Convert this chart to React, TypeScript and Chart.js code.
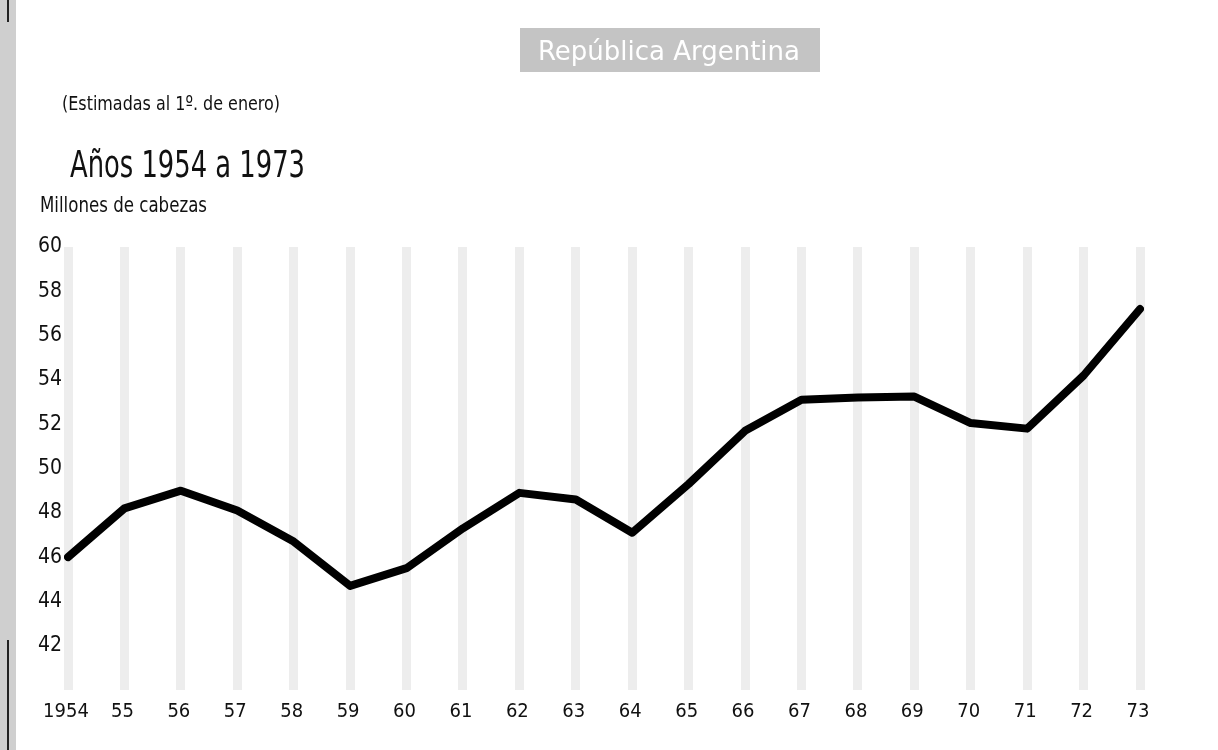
import React, { useEffect, useRef } from "react";
import { Chart, registerables } from "chart.js";

Chart.register(...registerables);

const years = ["1954", "55", "56", "57", "58", "59", "60", "61", "62", "63", "64", "65", "66", "67", "68", "69", "70", "71", "72", "73"];
const cattle = [46.0, 48.2, 49.0, 48.1, 46.7, 44.7, 45.5, 47.3, 48.9, 48.6, 47.1, 49.3, 51.7, 53.1, 53.2, 53.25, 52.05, 51.8, 54.2, 57.2];
const yTickValues = [42, 44, 46, 48, 50, 52, 54, 56, 58, 60];

const topTitle = "República Argentina";
const subTitle = "(Estimadas al 1º. de enero)";
const mainTitle = "Años 1954 a 1973";
const unitLabel = "Millones de cabezas";

const FONT = "'Liberation Sans Narrow', 'DejaVu Sans Condensed', 'Roboto Condensed', 'Liberation Sans', sans-serif";

function fitText(ctx: CanvasRenderingContext2D, text: string, x: number, baseline: number, size: number, width: number) {
  ctx.save();
  ctx.font = `${size}px ${FONT}`;
  ctx.textAlign = "left";
  ctx.textBaseline = "alphabetic";
  const w = ctx.measureText(text).width;
  const sx = w > 0 ? width / w : 1;
  ctx.translate(x, baseline);
  ctx.scale(sx, 1);
  ctx.fillText(text, 0, 0);
  ctx.restore();
}

const decorPlugin = {
  id: "decor",
  beforeDraw(chart: any) {
    const ctx = chart.ctx;
    ctx.save();
    ctx.fillStyle = "#ffffff";
    ctx.fillRect(0, 0, chart.width, chart.height);
    // scanned left edge strip
    ctx.fillStyle = "#cfcfcf";
    ctx.fillRect(0, 0, 16, chart.height);
    ctx.fillStyle = "#222";
    ctx.fillRect(7, 0, 2, 22);
    ctx.fillRect(7, 640, 2, 110);
    // gray patch behind top title
    ctx.fillStyle = "#c4c4c4";
    ctx.fillRect(520, 28, 300, 44);
    ctx.restore();
  },
  afterDraw(chart: any) {
    const ctx = chart.ctx;
    ctx.save();
    ctx.fillStyle = "#ffffff";
    fitText(ctx, topTitle, 538, 60, 27, 262);
    ctx.fillStyle = "#111";
    fitText(ctx, subTitle, 62, 110, 20, 218);
    fitText(ctx, mainTitle, 70, 177, 37, 235);
    fitText(ctx, unitLabel, 40, 212, 22, 167);
    ctx.restore();
  },
};

export default function App() {
  const ref = useRef<HTMLCanvasElement | null>(null);

  useEffect(() => {
    if (!ref.current) return;
    const chart = new Chart(ref.current, {
      type: "line",
      data: {
        labels: years,
        datasets: [
          {
            data: cattle,
            borderColor: "#000000",
            borderWidth: 8,
            pointRadius: 0,
            tension: 0,
            borderJoinStyle: "round",
            borderCapStyle: "round",
            fill: false,
          },
        ],
      },
      plugins: [decorPlugin],
      options: {
        responsive: false,
        animation: false,
        layout: { padding: { top: 247, right: 78, bottom: 0, left: 0 } },
        plugins: {
          legend: { display: false },
          tooltip: { enabled: false },
        },
        scales: {
          x: {
            offset: false,
            border: { display: false },
            grid: { display: true, color: "rgba(0,0,0,0.07)", lineWidth: 9, drawTicks: false },
            ticks: {
              color: "#111",
              padding: 10,
              labelOffset: -2,
              maxRotation: 0,
              autoSkip: false,
              font: { family: FONT, size: 20 },
            },
            afterFit(scale: any) {
              scale.height = 60;
            },
          },
          y: {
            min: 40,
            max: 60,
            border: { display: false },
            grid: { display: false, drawTicks: false },
            afterBuildTicks(scale: any) {
              scale.ticks = yTickValues.map((v) => ({ value: v }));
            },
            ticks: {
              color: "#111",
              padding: 6,
              font: { family: FONT, size: 21 },
            },
            afterFit(scale: any) {
              scale.width = 68;
            },
          },
        },
      },
    });
    return () => chart.destroy();
  }, []);

  return (
    <div style={{ position: "absolute", left: 0, top: 0, width: 1218, height: 750, background: "#fff" }}>
      <canvas ref={ref} width={1218} height={750} style={{ display: "block" }} />
    </div>
  );
}
